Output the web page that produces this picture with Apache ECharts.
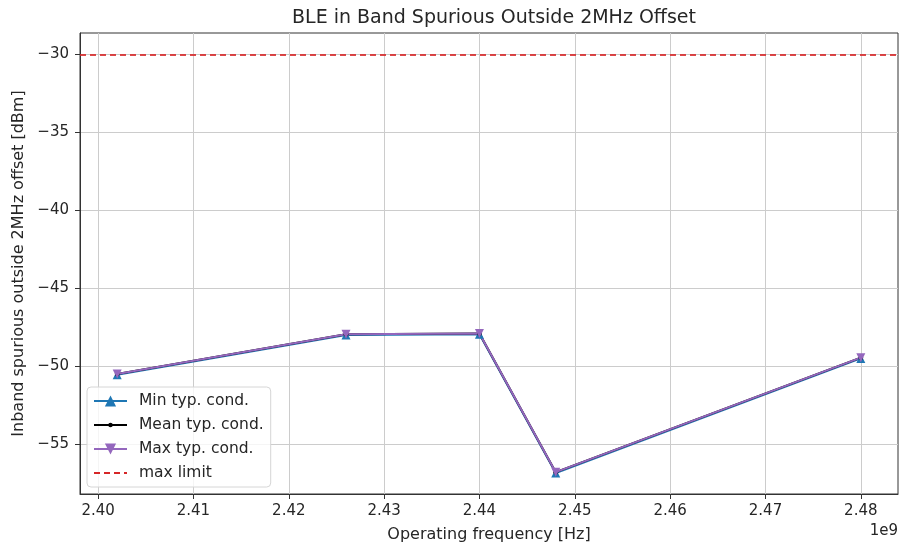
<!DOCTYPE html>
<html>
<head>
<meta charset="utf-8">
<script src="https://cdn.jsdelivr.net/npm/echarts@6/dist/echarts.min.js"></script>
<style>
  html, body { margin: 0; padding: 0; background: #fff; }
  #chart { width: 902px; height: 550px; }
</style>
</head>
<body>
<div id="chart"></div>
<script>
// operating frequencies [Hz]
const freqs = [2.402e9, 2.426e9, 2.440e9, 2.448e9, 2.480e9];
// inband spurious [dBm] (the three curves overlap in the picture)
const minVals = [-50.55, -48.0, -47.95, -56.85, -49.5];
const meanVals = [-50.5, -47.95, -47.9, -56.8, -49.45];
const maxVals = [-50.5, -47.95, -47.9, -56.8, -49.45];
const maxLimit = -30;
// tick labels
const xTicks = [2.40e9, 2.41e9, 2.42e9, 2.43e9, 2.44e9, 2.45e9, 2.46e9, 2.47e9, 2.48e9];
const yTicks = [-55, -50, -45, -40, -35, -30];

const font = 'DejaVu Sans';
const textColor = '#262626';
// small dot inside a padded box so the legend icon stays small
const dotPath = 'path://M0,0 M10,10 M5,3 A2,2 0 1,1 5,7 A2,2 0 1,1 5,3 Z';

function pairs(vals) {
  return freqs.map(function (f, i) { return [f, vals[i]]; });
}

const myChart = echarts.init(document.getElementById('chart'));
myChart.setOption({
  animation: false,
  backgroundColor: '#fff',
  title: {
    text: 'BLE in Band Spurious Outside 2MHz Offset',
    left: 489,
    top: 4,
    textAlign: 'center',
    textStyle: { fontFamily: font, fontSize: 19, fontWeight: 'normal', color: textColor }
  },
  grid: {
    left: 80,
    right: 4,
    top: 33,
    bottom: 56,
    show: true,
    borderColor: '#333',
    borderWidth: 1
  },
  legend: {
    orient: 'vertical',
    left: 87,
    top: 387,
    padding: [6, 7, 6, 6],
    itemWidth: 33,
    itemHeight: 14,
    itemGap: 8,
    backgroundColor: 'rgba(255,255,255,0.8)',
    borderColor: '#d6d6d6',
    borderWidth: 1,
    borderRadius: 4,
    textStyle: { fontFamily: font, fontSize: 15.5, color: textColor, padding: [0, 0, 0, 7] },
    data: [
      'Min typ. cond.',
      'Mean typ. cond.',
      'Max typ. cond.',
      { name: 'max limit', itemStyle: { opacity: 0 } }
    ]
  },
  xAxis: {
    type: 'value',
    min: 2.3981e9,
    max: 2.4839e9,
    name: 'Operating frequency [Hz]',
    nameLocation: 'middle',
    nameGap: 33,
    nameTextStyle: { fontFamily: font, fontSize: 16, color: textColor },
    axisLine: { show: true, onZero: false, lineStyle: { color: '#333', width: 1 } },
    axisTick: { show: true, length: 5, customValues: xTicks, lineStyle: { color: '#333' } },
    axisLabel: {
      customValues: xTicks,
      fontFamily: font, fontSize: 15, color: textColor, margin: 10,
      formatter: function (v) { return (v / 1e9).toFixed(2); }
    },
    splitLine: { show: true, lineStyle: { color: '#cccccc', width: 1 } }
  },
  yAxis: {
    type: 'value',
    min: -58.2,
    max: -28.62,
    name: 'Inband spurious outside 2MHz offset [dBm]',
    nameLocation: 'middle',
    nameGap: 53,
    nameTextStyle: { fontFamily: font, fontSize: 16, color: textColor },
    axisLine: { show: true, onZero: false, lineStyle: { color: '#333', width: 1 } },
    axisTick: { show: true, length: 5, customValues: yTicks, lineStyle: { color: '#333' } },
    axisLabel: {
      customValues: yTicks,
      fontFamily: font, fontSize: 15, color: textColor, margin: 11,
      formatter: function (v) { return String(v).replace('-', '\u2212'); }
    },
    splitLine: { show: true, lineStyle: { color: '#cccccc', width: 1 } }
  },
  graphic: [{
    type: 'text',
    right: 4,
    top: 524,
    style: { text: '1e9', font: '15px "DejaVu Sans"', fill: textColor }
  }],
  series: [
    {
      name: 'Min typ. cond.',
      type: 'line',
      data: pairs(minVals),
      symbol: 'triangle',
      symbolSize: 9,
      color: '#1f77b4',
      lineStyle: { width: 2, color: '#1f77b4' },
      itemStyle: { color: '#1f77b4' }
    },
    {
      name: 'Mean typ. cond.',
      type: 'line',
      data: pairs(meanVals),
      symbol: dotPath,
      symbolSize: 12,
      color: '#000',
      lineStyle: { width: 2, color: '#000' },
      itemStyle: { color: '#000' }
    },
    {
      name: 'Max typ. cond.',
      type: 'line',
      data: pairs(maxVals),
      symbol: 'triangle',
      symbolRotate: 180,
      symbolSize: 9,
      color: '#9467bd',
      lineStyle: { width: 2, color: '#9467bd' },
      itemStyle: { color: '#9467bd' }
    },
    {
      name: 'max limit',
      type: 'line',
      data: [],
      symbol: 'none',
      color: '#d62728',
      lineStyle: { width: 2, type: [6, 4], color: '#d62728' },
      markLine: {
        silent: true,
        symbol: 'none',
        label: { show: false },
        lineStyle: { width: 2, type: [6, 4], color: '#d62728', opacity: 0.85 },
        data: [{ yAxis: maxLimit }]
      }
    }
  ]
});
</script>
</body>
</html>
